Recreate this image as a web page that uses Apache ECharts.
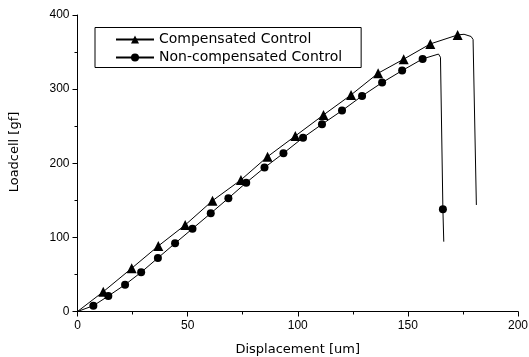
<!DOCTYPE html>
<html>
<head>
<meta charset="utf-8">
<script src="https://cdn.jsdelivr.net/npm/echarts@6/dist/echarts.min.js"></script>
<style>
html,body{margin:0;padding:0;background:#fff}
#chart{width:529px;height:357px}
</style>
</head>
<body>
<div id="chart"></div>
<script>
// compensated control - triangle marker points
const compX = [11.7, 24.6, 36.7, 48.9, 61.3, 74.2, 86.3, 98.9, 111.7, 124.2, 136.5, 148.1, 160.2, 172.6]
const compY = [26.7, 58.3, 88.4, 116.7, 149.5, 177.5, 208.9, 236.8, 265.2, 292.2, 321.5, 340.4, 361, 373.1]
// line only, no marker (flat top / drop)
const compTail = [[175.5, 374], [178.7, 371], [179.6, 367], [181.1, 143.7]]

// non-compensated control - circle marker points
const circX = [7.2, 14.0, 21.6, 28.9, 36.5, 44.3, 52.2, 60.5, 68.5, 76.6, 84.9, 93.5, 102.4, 111.0, 120.1, 129.2, 138.3, 147.4, 156.7]
const circY = [7.8, 20.9, 36.2, 52.9, 72.2, 92.0, 111.7, 132.5, 152.8, 173.8, 194.1, 213.5, 234.5, 252.6, 271, 290.8, 308.8, 325, 340.8]
const circTail = [[163.9, 347.3], [164.8, 343]]
const circDrop = [165.9, 137.9]
const circEnd = [166.3, 94.2]

const xTicks = [0, 50, 100, 150, 200]
const yTicks = [0, 100, 200, 300, 400]

const names = ["Compensated Control", "Non-compensated Control"]

const noSym = p => ({ value: p, symbol: "none" })

let compData = [noSym([0, 0])]
compX.forEach((x, i) => compData.push([x, compY[i]]))
compTail.forEach(p => compData.push(noSym(p)))

let circData = [noSym([0, 0])]
circX.forEach((x, i) => circData.push([x, circY[i]]))
circTail.forEach(p => circData.push(noSym(p)))
circData.push(circDrop)
circData.push(noSym(circEnd))

const font = "Liberation Sans, Arial, sans-serif"
const wide = "DejaVu Sans, sans-serif"

const chart = echarts.init(document.getElementById("chart"))
chart.setOption({
	animation: false,
	backgroundColor: "#fff",
	grid: {
		left: 77.5,
		right: 11,
		top: 15,
		bottom: 45.5,
		outerBoundsMode: "none"
	},
	// y axis title, placed by hand
	graphic: [{
		type: "text",
		x: 15,
		y: 152,
		rotation: Math.PI / 2,
		style: {
			text: "Loadcell [gf]",
			fontFamily: wide,
			fontSize: 13,
			fill: "#000",
			align: "center",
			verticalAlign: "middle"
		}
	}],
	legend: {
		data: names,
		orient: "vertical",
		left: 95,
		top: 27.5,
		padding: [5, 19, 3, 20],
		itemGap: 4,
		itemWidth: 38,
		itemHeight: 10,
		borderColor: "#000",
		borderWidth: 1,
		textStyle: {
			fontFamily: wide,
			fontSize: 14,
			color: "#000"
		}
	},
	xAxis: {
		type: "value",
		min: xTicks[0],
		max: xTicks[xTicks.length - 1],
		interval: 50,
		name: "Displacement [um]",
		nameLocation: "middle",
		nameGap: 32,
		nameTextStyle: { fontFamily: wide, fontSize: 13, color: "#000" },
		axisLine: { show: true, lineStyle: { color: "#000", width: 1 } },
		axisTick: { show: true, length: 5, lineStyle: { color: "#000" } },
		minorTick: { show: true, splitNumber: 2, length: 3, lineStyle: { color: "#000" } },
		axisLabel: { fontFamily: font, fontSize: 12, color: "#000", margin: 8 },
		splitLine: { show: false }
	},
	yAxis: {
		type: "value",
		min: yTicks[0],
		max: yTicks[yTicks.length - 1],
		interval: 100,
		axisLine: { show: true, lineStyle: { color: "#000", width: 1 } },
		axisTick: { show: true, length: 5, lineStyle: { color: "#000" } },
		minorTick: { show: true, splitNumber: 2, length: 3, lineStyle: { color: "#000" } },
		axisLabel: { fontFamily: font, fontSize: 12, color: "#000", margin: 8 },
		splitLine: { show: false }
	},
	series: [
		{
			name: names[0],
			type: "line",
			data: compData,
			symbol: "triangle",
			symbolSize: 10,
			showSymbol: true,
			clip: false,
			lineStyle: { color: "#000", width: 1 },
			itemStyle: { color: "#000" }
		},
		{
			name: names[1],
			type: "line",
			data: circData,
			symbol: "circle",
			symbolSize: 8,
			showSymbol: true,
			clip: false,
			lineStyle: { color: "#000", width: 1 },
			itemStyle: { color: "#000" }
		}
	]
})
</script>
</body>
</html>
